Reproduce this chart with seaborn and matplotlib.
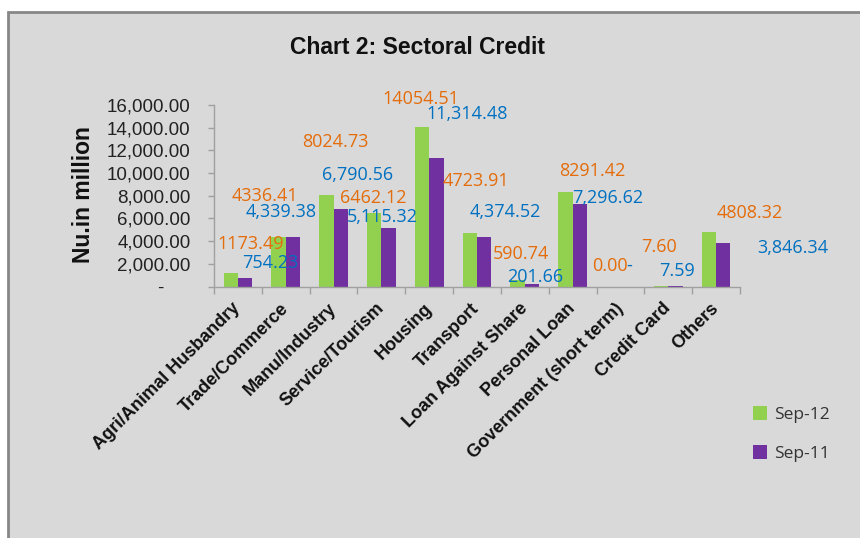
import matplotlib
matplotlib.use("Agg")
import matplotlib.pyplot as plt
from matplotlib.patches import Rectangle
from matplotlib.ticker import FuncFormatter, FixedLocator
import seaborn as sns
import pandas as pd

# ---------------- data ----------------
sectors = ["Agri/Animal Husbandry", "Trade/Commerce", "Manu/Industry", "Service/Tourism",
           "Housing", "Transport", "Loan Against Share", "Personal Loan",
           "Government (short term)", "Credit Card", "Others"]
sep12 = [1173.49, 4336.41, 8024.73, 6462.12, 14054.51, 4723.91, 590.74, 8291.42, 0.00, 7.60, 4808.32]
sep11 = [754.23, 4339.38, 6790.56, 5115.32, 11314.48, 4374.52, 201.66, 7296.62, 0.00, 7.59, 3846.34]
series_names = ["Sep-12", "Sep-11"]
yticks = [0, 2000, 4000, 6000, 8000, 10000, 12000, 14000, 16000]

# label layout (hand-placed labels in the original): x offset from category, y in data units
lab12_dx = [0.27, -0.44, 0.04, -0.17, -0.17, -0.02, -0.08, 0.42, -0.21, -0.19, 0.71]
lab12_y = [3746, 7978, 12738, 7801, 16528, 9300, 2865, 10181, 1807, 3482, 6479]
lab11_dx = [0.67, -0.10, 0.50, 0.02, 0.79, 0.60, 0.21, 0.73, 0.19, 0.19, 1.60]
lab11_y = [2072, 6567, 9829, 6126, 15206, 6567, 837, 7801, 1807, 1366, 3394]

green = "#92D050"
purple = "#7030A0"
orange = "#E46C0A"
blue = "#0070C0"
bg = "#D9D9D9"

df = pd.DataFrame({
    "Sector": sectors * 2,
    "Value": sep12 + sep11,
    "Period": [series_names[0]] * len(sectors) + [series_names[1]] * len(sectors),
})

sns.set_theme(style="white")
plt.rcParams["font.family"] = ["Liberation Sans", "DejaVu Sans"]

fig = plt.figure(figsize=(8.6, 5.38), dpi=100)
fig.patch.set_facecolor("white")
fig.patches.append(Rectangle((8 / 860, -0.05), 1.1, (538 - 12) / 538 + 0.05,
                             transform=fig.transFigure, facecolor=bg,
                             edgecolor="#878787", linewidth=2, zorder=-10))

ax = fig.add_axes([214 / 860, 1 - 286.5 / 538, (740 - 214) / 860, (286.5 - 105) / 538])
ax.set_facecolor(bg)
ax.patch.set_alpha(0)

sns.barplot(data=df, x="Sector", y="Value", hue="Period",
            palette=[green, purple], saturation=1, width=0.6, ax=ax, legend=True,
            edgecolor="none", linewidth=0)

ax.set_xlim(-0.5, len(sectors) - 0.5)
ax.set_ylim(0, 16000)
ax.set_yticks(yticks)
ax.yaxis.set_major_formatter(FuncFormatter(lambda v, p: "-     " if v == 0 else f"{v:,.2f}"))
ax.tick_params(axis="y", which="major", direction="out", length=4, width=1,
               color="#A0A0A0", labelsize=13.5, labelcolor="#222222", pad=13, left=True)

ax.set_xticks(range(len(sectors)))
ax.set_xticklabels(sectors, rotation=45, ha="right", va="center",
                   rotation_mode="anchor", fontsize=13, fontweight="bold", color="#111111")
ax.tick_params(axis="x", which="major", length=0, pad=14)
ax.xaxis.set_minor_locator(FixedLocator([i - 0.5 for i in range(len(sectors) + 1)]))
ax.tick_params(axis="x", which="minor", direction="out", length=5, width=1,
               color="#A0A0A0", bottom=True)

for s in ["top", "right"]:
    ax.spines[s].set_visible(False)
for s in ["left", "bottom"]:
    ax.spines[s].set_color("#A0A0A0")
    ax.spines[s].set_linewidth(1)
ax.set_xlabel("")
ax.set_ylabel("")

# data labels
for i in range(len(sectors)):
    ax.text(i + lab12_dx[i], lab12_y[i], f"{sep12[i]:.2f}", color=orange,
            ha="center", va="center", fontsize=13, family=["Open Sans", "DejaVu Sans"])
    t11 = "-" if sep11[i] == 0 else f"{sep11[i]:,.2f}"
    ax.text(i + lab11_dx[i], lab11_y[i], t11, color=blue,
            ha="center", va="center", fontsize=13, family=["Open Sans", "DejaVu Sans"])

# legend
handles, labels = ax.get_legend_handles_labels()
ax.legend(handles, labels, loc="center left", bbox_to_anchor=(737 / 860, 1 - 434 / 538),
          bbox_transform=fig.transFigure, frameon=False,
          prop={"family": ["Open Sans", "DejaVu Sans"], "size": 12.5},
          handlelength=0.85, handleheight=0.85, handletextpad=0.4, labelspacing=1.3,
          labelcolor="#333333")

fig.text(418 / 860, 1 - 47 / 538, "Chart 2: Sectoral Credit", ha="center", va="center",
         fontsize=16.5, fontweight="bold", color="#111111")
fig.text(83 / 860, 1 - 195 / 538, "Nu.in million", ha="center", va="center", rotation=90,
         fontsize=16.5, fontweight="bold", color="#111111")

fig.savefig("out.png", dpi=100, facecolor=fig.get_facecolor())
